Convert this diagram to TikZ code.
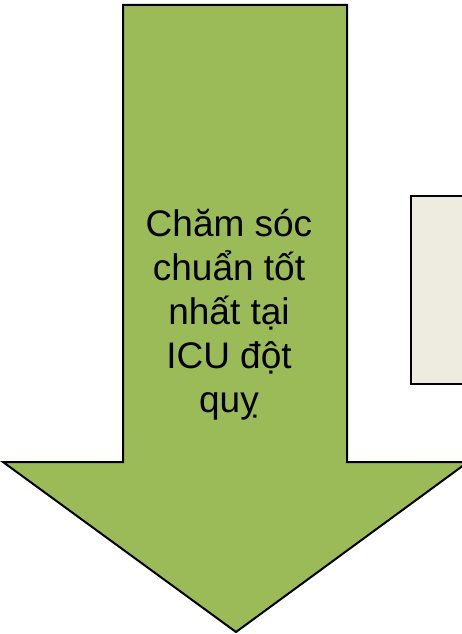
\documentclass[tikz,border=0pt]{standalone}
\usepackage{fontspec}
\setmainfont{Liberation Sans}
\definecolor{arrowgreen}{HTML}{9BBB59}
\definecolor{boxbeige}{HTML}{EEECE1}
\begin{document}
\begin{tikzpicture}[x=1pt,y=-1pt,
  shapeline/.style={draw=black,line width=2pt,line join=miter},
  lbl/.style={align=center,font=\fontsize{37}{44}\selectfont,inner sep=0pt}]
\useasboundingbox (0,0) rectangle (462,634);
\fill[white] (0,0) rectangle (462,634);
% side box (cut off by the right edge)
\draw[shapeline,fill=boxbeige] (411,196) rectangle (480,384);
% big down arrow
\draw[shapeline,fill=arrowgreen]
  (123,5) -- (347,5) -- (347,462) -- (468,462) -- (236,632)
  -- (3,462) -- (123,462) -- cycle;
\node[lbl] (txt) at (229,315) {Chăm sóc\\chuẩn tốt\\nhất tại\\ICU đột\\quỵ};
\end{tikzpicture}
\end{document}
